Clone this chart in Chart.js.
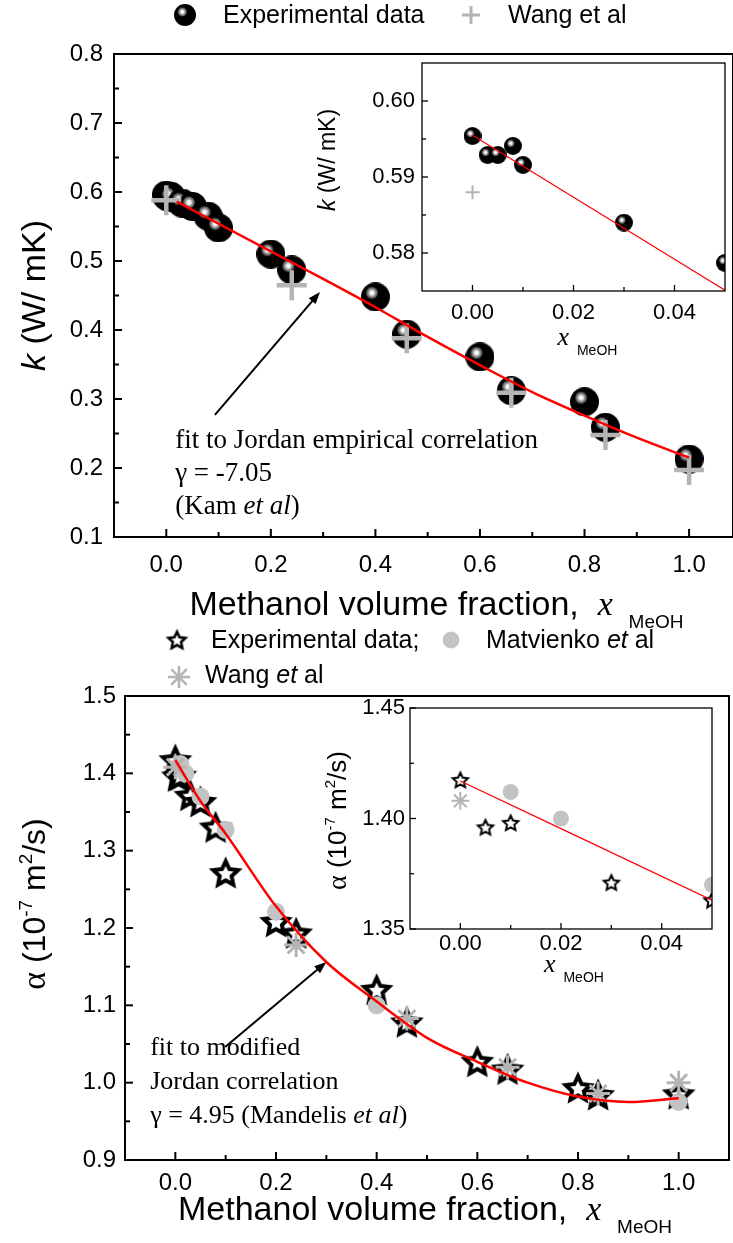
<!DOCTYPE html>
<html>
<head>
<meta charset="utf-8">
<script src="https://cdn.jsdelivr.net/npm/chart.js@4.4.1/dist/chart.umd.min.js"></script>
<style>
  html, body { margin: 0; background: #fff; overflow: hidden; }
  #wrap { position: relative; width: 733px; height: 1243px; background: #fff; overflow: hidden; }
  #wrap canvas { position: absolute; left: 0; top: 0; }
</style>
</head>
<body>
<div id="wrap">
  <canvas id="kMain" width="780" height="1243"></canvas>
  <canvas id="kInset" width="780" height="1243"></canvas>
  <canvas id="aMain" width="780" height="1243"></canvas>
  <canvas id="aInset" width="780" height="1243"></canvas>
</div>
<script>
/** 上图：导热系数 k */
var kExpX = [0, 0.003, 0.005, 0.008, 0.01, 0.03, 0.05, 0.08, 0.1, 0.2, 0.24, 0.4, 0.46, 0.6, 0.66, 0.8, 0.84, 1.0]
var kExpY = [0.5955, 0.593, 0.593, 0.5942, 0.5917, 0.584, 0.579, 0.565, 0.548, 0.51, 0.487, 0.448, 0.394, 0.361, 0.312, 0.296, 0.259, 0.213]
var kWangX = [0, 0.24, 0.46, 0.66, 0.84, 1.0]
var kWangY = [0.588, 0.465, 0.388, 0.309, 0.248, 0.197]
var kFitX = [0.02, 0.1, 0.2, 0.3, 0.4, 0.5, 0.6, 0.7, 0.8, 0.9, 1.0]
var kFitY = [0.586, 0.554, 0.514, 0.474, 0.433, 0.39, 0.349, 0.31, 0.276, 0.244, 0.215]
/** 上图插图 */
var kInsExpX = [0, 0.003, 0.005, 0.008, 0.01, 0.03, 0.05]
var kInsExpY = [0.5954, 0.5929, 0.5929, 0.5941, 0.5916, 0.584, 0.5787]
var kInsWangX = [0]
var kInsWangY = [0.588]
var kInsFitX = [0, 0.05]
var kInsFitY = [0.5955, 0.5751]

/** 下图：热扩散率 alpha */
var aExpX = [0, 0.005, 0.01, 0.03, 0.05, 0.08, 0.1, 0.2, 0.24, 0.4, 0.46, 0.6, 0.66, 0.8, 0.84, 1.0]
var aExpY = [1.417, 1.396, 1.397, 1.371, 1.363, 1.33, 1.271, 1.208, 1.193, 1.12, 1.078, 1.027, 1.017, 0.993, 0.984, 0.985]
var aMatX = [0.01, 0.02, 0.05, 0.1, 0.2, 0.4, 1.0]
var aMatY = [1.412, 1.4, 1.37, 1.327, 1.221, 1.1, 0.975]
var aWangX = [0, 0.24, 0.46, 0.66, 0.84, 1.0]
var aWangY = [1.408, 1.178, 1.083, 1.02, 0.986, 1.0]
var aFitX = [0, 0.05, 0.1, 0.2, 0.3, 0.4, 0.5, 0.6, 0.7, 0.8, 0.9, 1.0]
var aFitY = [1.417, 1.364, 1.322, 1.228, 1.156, 1.105, 1.058, 1.027, 1.0, 0.982, 0.975, 0.98]
/** 下图插图 */
var aInsExpX = [0, 0.005, 0.01, 0.03, 0.05]
var aInsExpY = [1.4174, 1.396, 1.398, 1.371, 1.363]
var aInsMatX = [0.01, 0.02, 0.05]
var aInsMatY = [1.412, 1.4, 1.37]
var aInsWangX = [0]
var aInsWangY = [1.408]
var aInsFitX = [0, 0.05]
var aInsFitY = [1.417, 1.363]

/** 刻度 */
var mainXMajor = [0, 0.2, 0.4, 0.6, 0.8, 1.0]
var mainXMinor = [0.1, 0.3, 0.5, 0.7, 0.9]
var kYMajor = [0.1, 0.2, 0.3, 0.4, 0.5, 0.6, 0.7, 0.8]
var kYMinor = [0.15, 0.25, 0.35, 0.45, 0.55, 0.65, 0.75]
var aYMajor = [0.9, 1.0, 1.1, 1.2, 1.3, 1.4, 1.5]
var aYMinor = [0.95, 1.05, 1.15, 1.25, 1.35, 1.45]
var insXMajor = [0, 0.02, 0.04]
var insXMinor = [0.01, 0.03]
var kInsYMajor = [0.58, 0.59, 0.6]
var kInsYMinor = [0.585, 0.595]
var aInsYMajor = [1.35, 1.4, 1.45]
var aInsYMinor = [1.375, 1.425]

var CW = 780, CH = 1243
var SANS = '"Liberation Sans", Arial, Helvetica, sans-serif'
var SERIF = '"Liberation Serif", "Times New Roman", Times, serif'
var GRAY = '#b4b4b4'
var LGRAY = '#c3c3c3'
var RED = '#ff0000'

function font(size, fam, style) {
    return (style ? style + ' ' : '') + size + 'px ' + fam
}
function pts(xs, ys) {
    return xs.map(function (x, i) { return { x: x, y: ys[i] } })
}

/** 黑色球 */
function makeBall(d) {
    var c = document.createElement('canvas')
    c.width = d; c.height = d
    var g = c.getContext('2d'), r = d / 2
    g.beginPath(); g.arc(r, r, r, 0, Math.PI * 2); g.fillStyle = '#000'; g.fill()
    var hx = d * 0.38, hy = d * 0.36
    var grad = g.createRadialGradient(hx, hy, 0, hx, hy, d * 0.24)
    grad.addColorStop(0, '#ffffff')
    grad.addColorStop(0.3, '#f0f0f0')
    grad.addColorStop(0.45, '#a8a8a8')
    grad.addColorStop(0.75, '#606060')
    grad.addColorStop(1, 'rgba(0,0,0,0)')
    g.fillStyle = grad
    g.beginPath(); g.arc(r, r, r, 0, Math.PI * 2); g.fill()
    return c
}
/** 空心五角星 */
function makeStar(R, lw) {
    var d = Math.ceil(2 * R + 2 * lw + 2)
    var c = document.createElement('canvas')
    c.width = d; c.height = d
    var g = c.getContext('2d'), cx = d / 2, cy = d / 2 + R * 0.08
    g.beginPath()
    for (var i = 0; i < 10; i++) {
        var rr = i % 2 === 0 ? R : R * 0.48
        var ang = -Math.PI / 2 + i * Math.PI / 5
        var px = cx + rr * Math.cos(ang), py = cy + rr * Math.sin(ang)
        if (i === 0) g.moveTo(px, py); else g.lineTo(px, py)
    }
    g.closePath()
    g.fillStyle = '#fff'; g.fill()
    g.lineWidth = lw; g.lineJoin = 'miter'; g.strokeStyle = '#000'; g.stroke()
    return c
}

var ballMain = makeBall(29), ballIns = makeBall(18), ballKey = makeBall(22)
var starMain = makeStar(13, 4), starIns = makeStar(8, 2), starKey = makeStar(9, 2.5)

function drawRich(ctx, parts, x, y, align) {
    var w = 0
    parts.forEach(function (p) { ctx.font = p.font; w += ctx.measureText(p.t).width })
    var cx = align === 'center' ? x - w / 2 : x
    ctx.textAlign = 'left'
    ctx.textBaseline = 'alphabetic'
    parts.forEach(function (p) {
        ctx.font = p.font
        ctx.fillText(p.t, cx, y + (p.dy || 0))
        cx += ctx.measureText(p.t).width
    })
}
function arrow(ctx, x1, y1, x2, y2) {
    var ang = Math.atan2(y2 - y1, x2 - x1), L = 12, W = 4.5
    ctx.beginPath(); ctx.moveTo(x1, y1)
    ctx.lineTo(x2 - L * 0.8 * Math.cos(ang), y2 - L * 0.8 * Math.sin(ang)); ctx.stroke()
    ctx.beginPath()
    ctx.moveTo(x2, y2)
    ctx.lineTo(x2 - L * Math.cos(ang) + W * Math.sin(ang), y2 - L * Math.sin(ang) - W * Math.cos(ang))
    ctx.lineTo(x2 - L * Math.cos(ang) - W * Math.sin(ang), y2 - L * Math.sin(ang) + W * Math.cos(ang))
    ctx.closePath(); ctx.fill()
}

/** 边框 + 内向刻度 */
Chart.register({
    id: 'frame',
    afterDatasetsDraw: function (chart, args, o) {
        var a = chart.chartArea, ctx = chart.ctx, xs = chart.scales.x, ys = chart.scales.y
        ctx.save()
        ctx.strokeStyle = '#000'
        ctx.lineWidth = o.width
        ctx.strokeRect(a.left, a.top, a.right - a.left, a.bottom - a.top)
        ctx.lineWidth = o.tickWidth
        xs.ticks.forEach(function (t) {
            var px = xs.getPixelForValue(t.value), len = t.label ? o.major : o.minor
            ctx.beginPath(); ctx.moveTo(px, a.bottom); ctx.lineTo(px, a.bottom - len); ctx.stroke()
        })
        ys.ticks.forEach(function (t) {
            var py = ys.getPixelForValue(t.value), len = t.label ? o.major : o.minor
            ctx.beginPath(); ctx.moveTo(a.left, py); ctx.lineTo(a.left + len, py); ctx.stroke()
        })
        ctx.restore()
    }
})
/** 轴标题 */
Chart.register({
    id: 'axisTitles',
    afterDraw: function (chart, args, o) {
        var a = chart.chartArea, ctx = chart.ctx
        ctx.save()
        ctx.fillStyle = '#000'
        if (o.x) drawRich(ctx, o.x.parts, (a.left + a.right) / 2 + o.x.dx, a.bottom + o.x.dy, 'center')
        if (o.y) {
            ctx.translate(a.left + o.y.dx, (a.top + a.bottom) / 2 + o.y.dy)
            ctx.rotate(-Math.PI / 2)
            drawRich(ctx, o.y.parts, 0, 0, 'center')
        }
        ctx.restore()
    }
})
/** 注释文字和箭头 */
Chart.register({
    id: 'notes',
    afterDraw: function (chart, args, o) {
        if (!o.lines) return
        var ctx = chart.ctx, xs = chart.scales.x, ys = chart.scales.y
        ctx.save()
        ctx.fillStyle = '#000'; ctx.strokeStyle = '#000'; ctx.lineWidth = 2
        var x0 = xs.getPixelForValue(o.at[0]), y0 = ys.getPixelForValue(o.at[1])
        o.lines.forEach(function (parts, i) { drawRich(ctx, parts, x0, y0 + i * o.gap, 'left') })
        arrow(ctx, xs.getPixelForValue(o.arrow[0]), ys.getPixelForValue(o.arrow[1]),
            xs.getPixelForValue(o.arrow[2]), ys.getPixelForValue(o.arrow[3]))
        ctx.restore()
    }
})
/** 图例 */
Chart.register({
    id: 'keys',
    afterDraw: function (chart, args, o) {
        if (!o.items) return
        var a = chart.chartArea, ctx = chart.ctx
        ctx.save()
        o.items.forEach(function (it) {
            var ds = chart.data.datasets[it.dataset]
            ctx.fillStyle = ds.backgroundColor || '#000'
            ctx.strokeStyle = ds.borderColor || '#000'
            ctx.lineWidth = it.lw || 1
            Chart.helpers.drawPoint(ctx, { pointStyle: it.style, radius: it.r || 0, borderWidth: it.lw || 1, rotation: 0 },
                a.left + it.sx, a.top + it.sy)
            ctx.fillStyle = '#000'
            var parts = ds.label.split(' ').map(function (w, i, arr) {
                var t = w + (i < arr.length - 1 ? ' ' : '')
                var it2 = o.italic && o.italic.indexOf(w) >= 0
                return { t: t, font: font(25, SANS, it2 ? 'italic' : '') }
            })
            drawRich(ctx, parts, a.left + it.tx, a.top + it.ty, 'left')
        })
        ctx.restore()
    }
})

function axis(min, max, major, minor, digits, fsize, pad) {
    var all = major.concat(minor).sort(function (p, q) { return p - q })
    return {
        type: 'linear', min: min, max: max,
        afterBuildTicks: function (s) { s.ticks = all.map(function (v) { return { value: v } }) },
        ticks: {
            autoSkip: false, maxRotation: 0, padding: pad, color: '#000',
            font: { family: SANS, size: fsize },
            callback: function (v) {
                return major.some(function (m) { return Math.abs(m - v) < 1e-9 }) ? v.toFixed(digits) : ''
            }
        },
        grid: { display: false, drawTicks: false },
        border: { display: false }
    }
}

function makeChart(id, box, datasets, scales, plugins) {
    var chart = new Chart(document.getElementById(id), {
        type: 'scatter',
        data: { datasets: datasets },
        options: {
            responsive: false, animation: false, devicePixelRatio: 1,
            events: [],
            layout: { padding: { left: box.left - 60, top: box.top, right: CW - box.right, bottom: CH - box.bottom - 40 } },
            plugins: Object.assign({ legend: { display: false }, tooltip: { enabled: false } }, plugins),
            scales: scales
        }
    })
    /** 固定绘图区位置 */
    for (var i = 0; i < 3; i++) {
        var a = chart.chartArea, p = chart.options.layout.padding
        chart.options.layout.padding = {
            left: p.left + box.left - a.left, top: p.top + box.top - a.top,
            right: p.right + a.right - box.right, bottom: p.bottom + a.bottom - box.bottom
        }
        chart.update()
    }
    return chart
}

function fitSet(xs, ys, w) {
    return { type: 'line', label: 'fit', data: pts(xs, ys), borderColor: RED, borderWidth: w, pointRadius: 0,
        fill: false, cubicInterpolationMode: 'monotone', order: 0, clip: 0 }
}

/** ---------- k 主图 ---------- */
makeChart('kMain', { left: 114, top: 54, right: 733, bottom: 537 }, [
    { label: 'Experimental data', data: pts(kExpX, kExpY), pointStyle: ballMain, backgroundColor: '#000', borderColor: '#000', order: 2, clip: 0 },
    { label: 'Wang et al', data: pts(kWangX, kWangY), pointStyle: 'cross', pointRadius: 15, borderWidth: 4.5, borderColor: GRAY, backgroundColor: GRAY, order: 1, clip: 0 },
    fitSet(kFitX, kFitY, 2.5)
], {
    x: axis(-0.1, 1.084, mainXMajor, mainXMinor, 1, 24, 14),
    y: axis(0.1, 0.8, kYMajor, kYMinor, 1, 24, 11)
}, {
    frame: { width: 2, tickWidth: 2, major: 8, minor: 5 },
    axisTitles: {
        x: { dx: 13, dy: 78, parts: [
            { t: 'Methanol volume fraction,  ', font: font(34, SANS) },
            { t: 'x', font: font(34, SERIF, 'italic') },
            { t: '   MeOH', font: font(19, SANS), dy: 13 }] },
        y: { dx: -69, dy: 0, parts: [
            { t: 'k', font: font(34, SANS, 'italic') },
            { t: ' (W/ mK)', font: font(34, SANS) }] }
    },
    notes: {
        at: [0.017, 0.229], gap: 33,
        lines: [
            [{ t: 'fit to Jordan empirical correlation', font: font(27, SERIF) }],
            [{ t: '\u03b3 = -7.05', font: font(27, SERIF) }],
            [{ t: '(Kam ', font: font(27, SERIF) }, { t: 'et al', font: font(27, SERIF, 'italic') }, { t: ')', font: font(27, SERIF) }]
        ],
        arrow: [0.093, 0.277, 0.294, 0.455]
    },
    keys: {
        items: [
            { dataset: 0, style: ballKey, sx: 71, sy: -39, tx: 109, ty: -31 },
            { dataset: 1, style: 'cross', r: 9, lw: 3, sx: 357, sy: -39, tx: 394, ty: -31 }
        ]
    }
})

/** ---------- k 插图 ---------- */
makeChart('kInset', { left: 422, top: 63, right: 725, bottom: 291 }, [
    { label: 'Experimental data', data: pts(kInsExpX, kInsExpY), pointStyle: ballIns, order: 2, clip: 0 },
    { label: 'Wang et al', data: pts(kInsWangX, kInsWangY), pointStyle: 'cross', pointRadius: 7, borderWidth: 2, borderColor: GRAY, order: 1, clip: 0 },
    fitSet(kInsFitX, kInsFitY, 1.2)
], {
    x: axis(-0.01, 0.05, insXMajor, insXMinor, 2, 22, 9),
    y: axis(0.575, 0.605, kInsYMajor, kInsYMinor, 2, 22, 7)
}, {
    frame: { width: 1.3, tickWidth: 1.3, major: 6, minor: 4 },
    axisTitles: {
        x: { dx: 14, dy: 54, parts: [
            { t: 'x', font: font(26, SERIF, 'italic') },
            { t: '  MeOH', font: font(14, SANS), dy: 10 }] },
        y: { dx: -87, dy: -17, parts: [
            { t: 'k', font: font(23, SANS, 'italic') },
            { t: ' (W/ mK)', font: font(23, SANS) }] }
    }
})

/** ---------- alpha 主图 ---------- */
makeChart('aMain', { left: 125, top: 696, right: 729, bottom: 1160 }, [
    { label: 'Experimental data;', data: pts(aExpX, aExpY), pointStyle: starMain, backgroundColor: '#fff', borderColor: '#000', order: 3, clip: 0 },
    { label: 'Matvienko et al', data: pts(aMatX, aMatY), pointStyle: 'circle', pointRadius: 9, borderWidth: 0, backgroundColor: LGRAY, borderColor: LGRAY, order: 2, clip: 0 },
    { label: 'Wang et al', data: pts(aWangX, aWangY), pointStyle: 'star', pointRadius: 12, borderWidth: 3, borderColor: GRAY, backgroundColor: GRAY, order: 1, clip: 0 },
    fitSet(aFitX, aFitY, 2.5)
], {
    x: axis(-0.1, 1.1, mainXMajor, mainXMinor, 1, 24, 9),
    y: axis(0.9, 1.5, aYMajor, aYMinor, 1, 24, 9)
}, {
    frame: { width: 2, tickWidth: 2, major: 8, minor: 5 },
    axisTitles: {
        x: { dx: -2, dy: 60, parts: [
            { t: 'Methanol volume fraction,  ', font: font(34, SANS) },
            { t: 'x', font: font(34, SERIF, 'italic') },
            { t: '   MeOH', font: font(19, SANS), dy: 13 }] },
        y: { dx: -80, dy: -24, parts: [
            { t: '\u03b1', font: font(34, SERIF) },
            { t: ' (10', font: font(32, SANS) },
            { t: '-7', font: font(19, SANS), dy: -13 },
            { t: ' m', font: font(32, SANS) },
            { t: '2', font: font(19, SANS), dy: -13 },
            { t: '/s)', font: font(32, SANS) }] }
    },
    notes: {
        at: [-0.05, 1.0356], gap: 34,
        lines: [
            [{ t: 'fit to modified', font: font(26, SERIF) }],
            [{ t: 'Jordan correlation', font: font(26, SERIF) }],
            [{ t: '\u03b3 = 4.95 (Mandelis ', font: font(26, SERIF) }, { t: 'et al', font: font(26, SERIF, 'italic') }, { t: ')', font: font(26, SERIF) }]
        ],
        arrow: [0.099, 1.046, 0.30, 1.156]
    },
    keys: {
        italic: ['et'],
        items: [
            { dataset: 0, style: starKey, sx: 52, sy: -56, tx: 86, ty: -48 },
            { dataset: 1, style: 'circle', r: 8, lw: 0, sx: 326, sy: -56, tx: 361, ty: -48 },
            { dataset: 2, style: 'star', r: 11, lw: 2.5, sx: 54, sy: -19, tx: 80, ty: -13 }
        ]
    }
})

/** ---------- alpha 插图 ---------- */
makeChart('aInset', { left: 410, top: 708, right: 712, bottom: 929 }, [
    { label: 'Experimental data;', data: pts(aInsExpX, aInsExpY), pointStyle: starIns, order: 3, clip: 0 },
    { label: 'Matvienko et al', data: pts(aInsMatX, aInsMatY), pointStyle: 'circle', pointRadius: 8, borderWidth: 0, backgroundColor: LGRAY, order: 2, clip: 0 },
    { label: 'Wang et al', data: pts(aInsWangX, aInsWangY), pointStyle: 'star', pointRadius: 9, borderWidth: 2, borderColor: GRAY, order: 1, clip: 0 },
    fitSet(aInsFitX, aInsFitY, 1.2)
], {
    x: axis(-0.01, 0.05, insXMajor, insXMinor, 2, 22, 2),
    y: axis(1.35, 1.45, aInsYMajor, aInsYMinor, 2, 22, 5)
}, {
    frame: { width: 1.3, tickWidth: 1.3, major: 6, minor: 4 },
    axisTitles: {
        x: { dx: 13, dy: 43, parts: [
            { t: 'x', font: font(26, SERIF, 'italic') },
            { t: '  MeOH', font: font(14, SANS), dy: 10 }] },
        y: { dx: -64, dy: 2, parts: [
            { t: '\u03b1', font: font(28, SERIF) },
            { t: ' (10', font: font(26, SANS) },
            { t: '-7', font: font(15, SANS), dy: -11 },
            { t: ' m', font: font(26, SANS) },
            { t: '2', font: font(15, SANS), dy: -11 },
            { t: '/s)', font: font(26, SANS) }] }
    }
})
</script>
</body>
</html>
